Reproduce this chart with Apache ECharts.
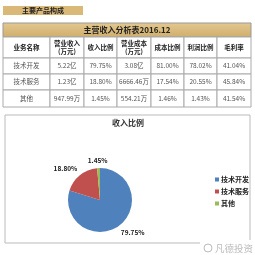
<!DOCTYPE html>
<html><head><meta charset="utf-8">
<script src="https://cdn.jsdelivr.net/npm/echarts@6/dist/echarts.min.js"></script>
<style>html,body{margin:0;padding:0;background:#fff}#c{width:255px;height:255px}</style>
</head><body><div id="c"></div>
<script>
const sectionTitle = '主要产品构成';
const tableTitle = '主营收入分析表2016.12';
const headers = ['业务名称', '营业收入\n(万元)', '收入比例', '营业成本\n(万元)', '成本比例', '利润比例', '毛利率'];
const businesses = ['技术开发', '技术服务', '其他'];
const revenue = ['5.22亿', '1.23亿', '947.99万'];
const revenueShare = ['79.75%', '18.80%', '1.45%'];
const cost = ['3.08亿', '6666.46万', '554.21万'];
const costShare = ['81.00%', '17.54%', '1.46%'];
const profitShare = ['78.02%', '20.55%', '1.43%'];
const grossMargin = ['41.04%', '45.84%', '41.54%'];
const pieTitle = '收入比例';
const pieValues = [79.75, 18.80, 1.45];
const pieColors = ['#4f81bd', '#c0504d', '#9bbb59'];
const watermark = '凡德投资';

const FONT = '"Noto Sans CJK SC", "Noto Sans", sans-serif';
const colX = [3, 50, 84, 117, 151, 184, 217, 251];
const rowY = [23, 37, 58, 74, 90, 107];
const PIE_C = [100, 200], PIE_R = 32;

const g = [];
g.push({type:'rect', shape:{x:3, y:6, width:80, height:9}, style:{fill:'#d9b878'}});
g.push({type:'text', x:43, y:10.5, style:{text:sectionTitle, fill:'#222', font:'bold 7px ' + FONT, align:'center', verticalAlign:'middle'}});
g.push({type:'rect', shape:{x:colX[0], y:rowY[0], width:colX[7]-colX[0], height:rowY[1]-rowY[0]},
  style:{fill:new echarts.graphic.LinearGradient(0,0,0,1,[{offset:0,color:'#e3c88f'},{offset:1,color:'#cfae6c'}]), stroke:'#999', lineWidth:1}});
g.push({type:'text', x:(colX[0]+colX[7])/2, y:(rowY[0]+rowY[1])/2, style:{text:tableTitle, fill:'#222', font:'bold 8px ' + FONT, align:'center', verticalAlign:'middle'}});
const rows = [headers];
businesses.forEach((b,i)=>rows.push([b, revenue[i], revenueShare[i], cost[i], costShare[i], profitShare[i], grossMargin[i]]));
rows.forEach((r,ri)=>{
  r.forEach((t,ci)=>{
    const x0 = colX[ci], x1 = colX[ci+1], y0 = rowY[ri+1], y1 = rowY[ri+2];
    g.push({type:'rect', shape:{x:x0, y:y0, width:x1-x0, height:y1-y0}, style:{fill:'#fff', stroke:'#aaa', lineWidth:1}});
    g.push({type:'text', x:(x0+x1)/2, y:(y0+y1)/2, style:{text:t, fill: ri===0 ? '#222' : '#555',
      font:(ri===0 ? 'bold ' : '') + '6.5px ' + FONT, align:'center', verticalAlign:'middle', lineHeight:8}});
  });
});
g.push({type:'polyline', shape:{points:[[200,243],[5,243],[5,115],[250,115],[250,240]]}, style:{stroke:'#bbb', lineWidth:1, fill:null}});
g.push({type:'text', x:128, y:123, style:{text:pieTitle, fill:'#333', font:'bold 8px ' + FONT, align:'center', verticalAlign:'middle'}});
g.push({type:'circle', shape:{cx:208, cy:248, r:4}, style:{fill:null, stroke:'#bbb', lineWidth:1}});
g.push({type:'text', x:215, y:248, style:{text:watermark, fill:'#bbb', font:'9.5px ' + FONT, align:'left', verticalAlign:'middle'}});

// Excel-like outside label placement: label box sits just outside the slice's mid-angle
const total = pieValues.reduce((a,b)=>a+b,0);
function midDir(i){
  let before = 0; for (let k=0;k<i;k++) before += pieValues[k];
  const a = (before + pieValues[i]/2) / total * 2 * Math.PI; // clockwise from 12 o'clock
  return [Math.sin(a), -Math.cos(a)];
}
const clamp = v => Math.max(-1, Math.min(1, v));

const chart = echarts.init(document.getElementById('c'), null, {renderer:'canvas'});
chart.setOption({
  animation:false,
  color: pieColors,
  graphic: g,
  legend: {orient:'vertical', left:210, top:171, itemWidth:4, itemHeight:4, itemGap:5, icon:'rect',
    textStyle:{fontSize:7, fontWeight:'bold', color:'#222', fontFamily:FONT, padding:[0,0,0,-3]},
    data: businesses},
  series: [{type:'pie', center:PIE_C, radius:PIE_R, startAngle:90, clockwise:true,
    label:{show:true, position:'outside', formatter:p=>p.value.toFixed(2)+'%', fontSize:6.5, fontWeight:'bold', color:'#222', fontFamily:FONT},
    labelLine:{show:false, length:5, length2:2},
    labelLayout: function(p){
      const d = midDir(p.dataIndex);
      const w = p.labelRect.width, h = p.labelRect.height, gap = 4;
      const x = PIE_C[0] + d[0]*(PIE_R+gap) + clamp(d[0]*1.6)*w/2;
      const y = PIE_C[1] + d[1]*(PIE_R+gap) + clamp(d[1]*1.6)*h/2;
      return {x:x, y:y, align:'center', verticalAlign:'middle'};
    },
    data: businesses.map((b,i)=>({name:b, value:pieValues[i]}))}]
});
</script></body></html>
